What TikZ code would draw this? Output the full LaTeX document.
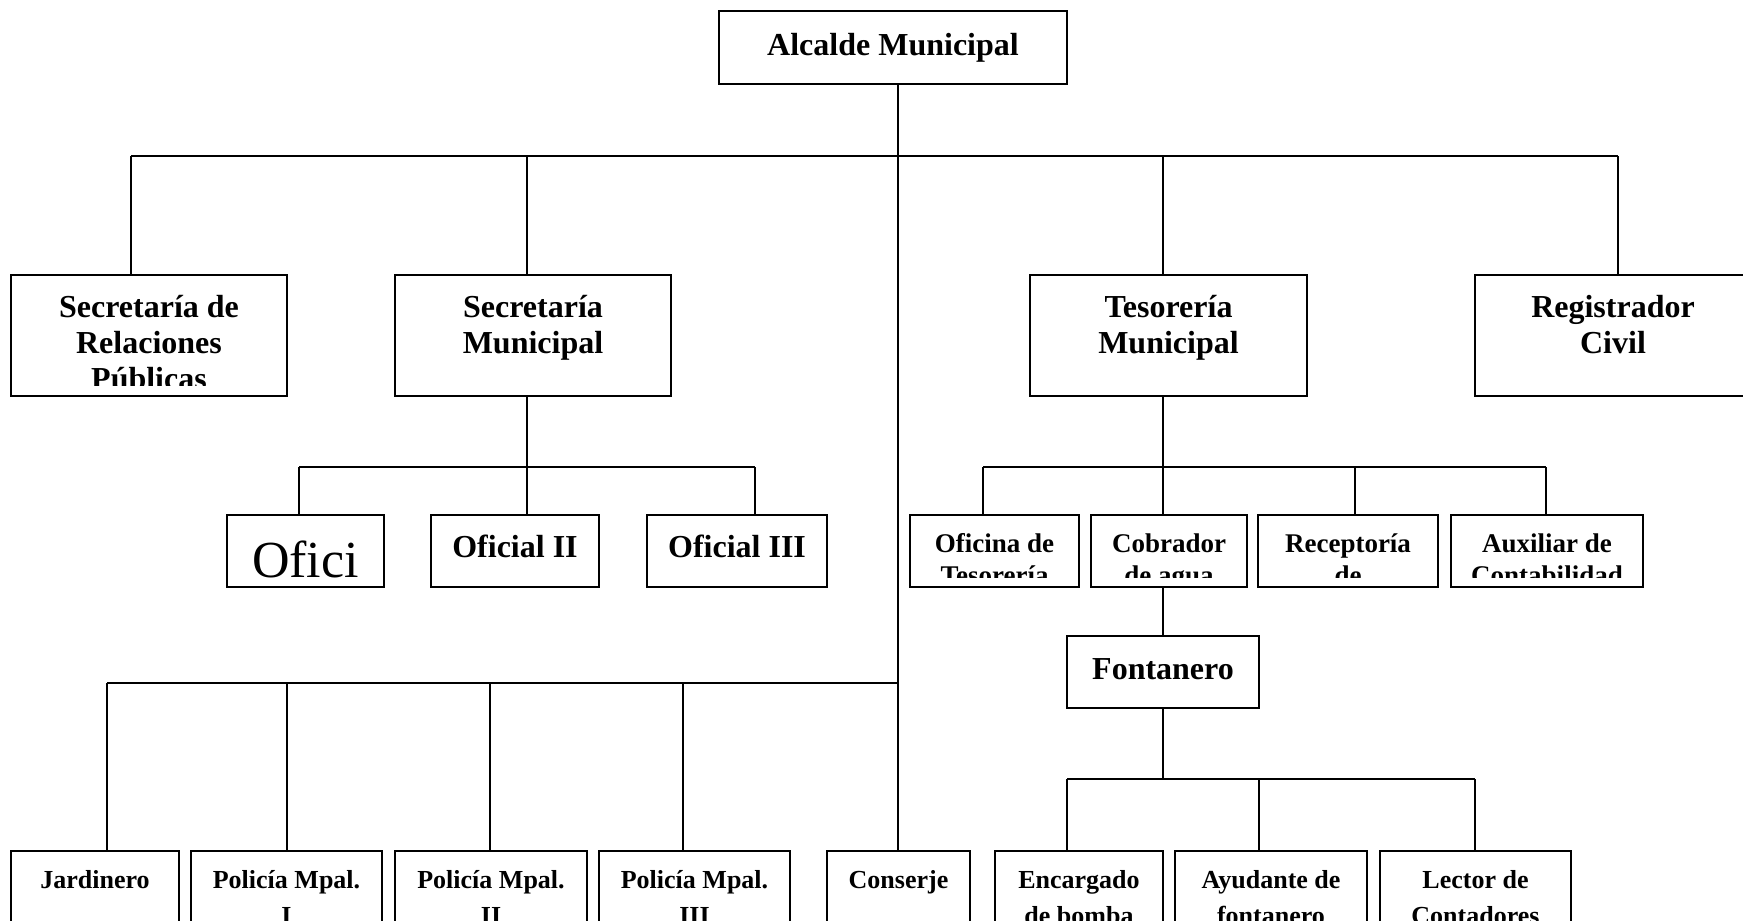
\documentclass[tikz,border=0pt]{standalone}
\usepackage{fontspec}
\setmainfont{Liberation Serif}
\newcommand\fntL{\fontsize{32}{36}\selectfont\bfseries}
\newcommand\fntS{\fontsize{27}{32}\selectfont\bfseries}
\newcommand\fntB{\fontsize{26}{36}\selectfont\bfseries}
\newcommand\fntR{\fontsize{52}{60}\selectfont}
% #1 node, #2 baseline offset from top, #3 clip margin at bottom, #4 font, #5 text
\newcommand\btext[5]{%
  \begin{scope}
    \clip (#1.north west) rectangle ([yshift=#3]#1.south east);
    \node[anchor=base, font=#4, inner sep=0pt] (#1-t) at ([yshift=-#2]#1.north)
      {\begin{tabular}[t]{@{}c@{}}#5\end{tabular}};
  \end{scope}}
\begin{document}
\begin{tikzpicture}[x=1pt,y=-1pt,
  box/.style={draw, line width=1.8pt, inner sep=0pt, outer sep=0pt, anchor=north west},
  conn/.style={line width=1.5pt}]
\useasboundingbox (0,0) rectangle (1743,921);
\clip (0,0) rectangle (1743,921);

% ---- boxes ----
\node[box, minimum width=348pt, minimum height=73pt] (alc) at (719,11) {};
\node[box, minimum width=276pt, minimum height=121pt] (secrp) at (11,275) {};
\node[box, minimum width=276pt, minimum height=121pt] (secmun) at (395,275) {};
\node[box, minimum width=277pt, minimum height=121pt] (teso) at (1030,275) {};
\node[box, minimum width=276pt, minimum height=121pt] (reg) at (1475,275) {};

\node[box, minimum width=157pt, minimum height=72pt] (ofi1) at (227,515) {};
\node[box, minimum width=168pt, minimum height=72pt] (ofi2) at (431,515) {};
\node[box, minimum width=180pt, minimum height=72pt] (ofi3) at (647,515) {};

\node[box, minimum width=169pt, minimum height=72pt] (ofte) at (910,515) {};
\node[box, minimum width=156pt, minimum height=72pt] (cobr) at (1091,515) {};
\node[box, minimum width=180pt, minimum height=72pt] (rece) at (1258,515) {};
\node[box, minimum width=192pt, minimum height=72pt] (aux) at (1451,515) {};

\node[box, minimum width=192pt, minimum height=72pt] (fon) at (1067,636) {};

\node[box, minimum width=168pt, minimum height=100pt] (jard) at (11,851) {};
\node[box, minimum width=191pt, minimum height=100pt] (pol1) at (191,851) {};
\node[box, minimum width=192pt, minimum height=100pt] (pol2) at (395,851) {};
\node[box, minimum width=191pt, minimum height=100pt] (pol3) at (599,851) {};
\node[box, minimum width=143pt, minimum height=100pt] (cons) at (827,851) {};
\node[box, minimum width=168pt, minimum height=100pt] (enc) at (995,851) {};
\node[box, minimum width=192pt, minimum height=100pt] (ayu) at (1175,851) {};
\node[box, minimum width=191pt, minimum height=100pt] (lect) at (1380,851) {};

% ---- texts ----
\btext{alc}{44pt}{0pt}{\fntL}{Alcalde Municipal}
\btext{secrp}{42pt}{11pt}{\fntL}{Secretaría de\\Relaciones\\Públicas}
\btext{secmun}{42pt}{11pt}{\fntL}{Secretaría\\Municipal}
\btext{teso}{42pt}{11pt}{\fntL}{Tesorería\\Municipal}
\btext{reg}{42pt}{11pt}{\fntL}{Registrador\\Civil}
\btext{ofi1}{62pt}{0pt}{\fntR}{Ofici}
\btext{ofi2}{42pt}{0pt}{\fntL}{Oficial II}
\btext{ofi3}{42pt}{0pt}{\fntL}{Oficial III}
\btext{ofte}{37pt}{10pt}{\fntS}{Oficina de\\Tesorería}
\btext{cobr}{37pt}{10pt}{\fntS}{Cobrador\\de agua}
\btext{rece}{37pt}{10pt}{\fntS}{Receptoría\\de}
\btext{aux}{37pt}{10pt}{\fntS}{Auxiliar de\\Contabilidad}
\btext{fon}{43pt}{0pt}{\fntL}{Fontanero}
\btext{jard}{37pt}{0pt}{\fntB}{Jardinero}
\btext{pol1}{37pt}{0pt}{\fntB}{Policía Mpal.\\I}
\btext{pol2}{37pt}{0pt}{\fntB}{Policía Mpal.\\II}
\btext{pol3}{37pt}{0pt}{\fntB}{Policía Mpal.\\III}
\btext{cons}{37pt}{0pt}{\fntB}{Conserje}
\btext{enc}{37pt}{0pt}{\fntB}{Encargado\\de bomba}
\btext{ayu}{37pt}{0pt}{\fntB}{Ayudante de\\fontanero}
\btext{lect}{37pt}{0pt}{\fntB}{Lector de\\Contadores}

% ---- junction coordinates ----
\coordinate (jTop) at (898,156);
\coordinate (dSecrp) at (131,156);
\coordinate (dSecmun) at (527,156);
\coordinate (dTeso) at (1163,156);
\coordinate (dReg) at (1618,156);

\coordinate (jSec) at (527,467);
\coordinate (dOfi1) at (299,467);
\coordinate (dOfi3) at (755,467);

\coordinate (jTes) at (1163,467);
\coordinate (dOfte) at (983,467);
\coordinate (dRece) at (1355,467);
\coordinate (dAux) at (1546,467);

\coordinate (jLeft) at (898,683);
\coordinate (dJard) at (107,683);
\coordinate (dPol1) at (287,683);
\coordinate (dPol2) at (490,683);
\coordinate (dPol3) at (683,683);

\coordinate (jFon) at (1163,779);
\coordinate (dEnc) at (1067,779);
\coordinate (dAyu) at (1259,779);
\coordinate (dLect) at (1475,779);

% ---- connectors ----
\draw[conn] (alc.south -| jTop) -- (cons.north -| jTop);
\draw[conn] (dSecrp) -- (dReg);
\draw[conn] (dSecrp) -- (dSecrp |- secrp.north);
\draw[conn] (dSecmun) -- (dSecmun |- secmun.north);
\draw[conn] (dTeso) -- (dTeso |- teso.north);
\draw[conn] (dReg) -- (dReg |- reg.north);

\draw[conn] (secmun.south -| jSec) -- (jSec);
\draw[conn] (dOfi1) -- (dOfi3);
\draw[conn] (dOfi1) -- (dOfi1 |- ofi1.north);
\draw[conn] (jSec) -- (jSec |- ofi2.north);
\draw[conn] (dOfi3) -- (dOfi3 |- ofi3.north);

\draw[conn] (teso.south -| jTes) -- (jTes);
\draw[conn] (dOfte) -- (dAux);
\draw[conn] (dOfte) -- (dOfte |- ofte.north);
\draw[conn] (jTes) -- (jTes |- cobr.north);
\draw[conn] (dRece) -- (dRece |- rece.north);
\draw[conn] (dAux) -- (dAux |- aux.north);

\draw[conn] (cobr.south -| jTes) -- (fon.north -| jTes);

\draw[conn] (dJard) -- (jLeft);
\draw[conn] (dJard) -- (dJard |- jard.north);
\draw[conn] (dPol1) -- (dPol1 |- pol1.north);
\draw[conn] (dPol2) -- (dPol2 |- pol2.north);
\draw[conn] (dPol3) -- (dPol3 |- pol3.north);

\draw[conn] (fon.south -| jFon) -- (jFon);
\draw[conn] (dEnc) -- (dLect);
\draw[conn] (dEnc) -- (dEnc |- enc.north);
\draw[conn] (dAyu) -- (dAyu |- ayu.north);
\draw[conn] (dLect) -- (dLect |- lect.north);
\end{tikzpicture}
\end{document}
